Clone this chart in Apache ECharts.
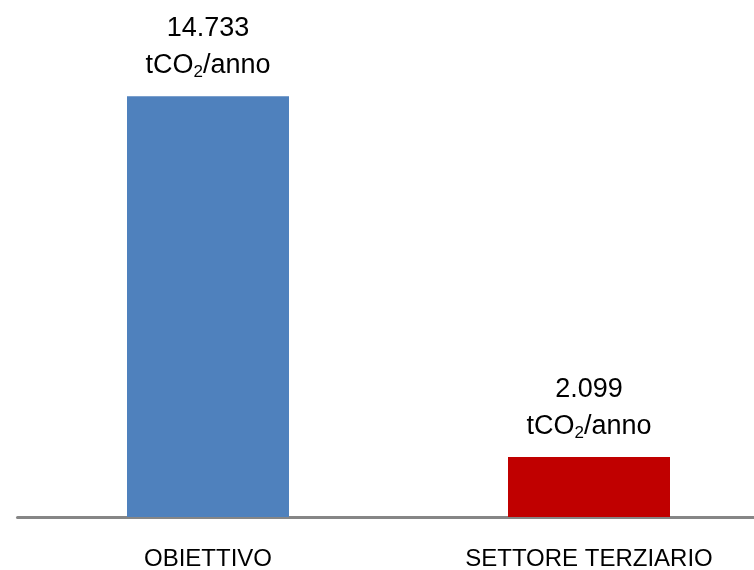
<!DOCTYPE html>
<html>
<head>
<meta charset="utf-8">
<script src="https://cdn.jsdelivr.net/npm/echarts@6/dist/echarts.min.js"></script>
<style>
html, body { margin: 0; padding: 0; background: #fff; }
#chart { width: 754px; height: 570px; }
</style>
</head>
<body>
<div id="chart"></div>
<script>
var categories = ['OBIETTIVO', 'SETTORE TERZIARIO'];
var values = [14733, 2099];
var valueLabels = ['14.733', '2.099'];
var barColors = ['#4F81BD', '#C00000'];

var chart = echarts.init(document.getElementById('chart'));

var data = values.map(function(v, i) {
	return { value: v, itemStyle: { color: barColors[i] } };
});

var option = {
	animation: false,
	textStyle: { fontFamily: 'Liberation Sans, Arial, sans-serif' },
	grid: { left: 17.5, right: -25.5, top: 3, bottom: 53, outerBoundsMode: 'none' },
	xAxis: {
		type: 'category',
		data: categories,
		axisLine: { lineStyle: { color: '#868686', width: 3 } },
		axisTick: { show: false },
		axisLabel: { color: '#000', fontSize: 24, margin: 30 }
	},
	yAxis: {
		type: 'value',
		min: 0,
		max: 18000,
		show: false
	},
	series: [{
		type: 'bar',
		barWidth: 162,
		data: data,
		label: {
			show: true,
			position: 'top',
			distance: 12,
			align: 'center',
			formatter: function(p) {
				return '{v|' + valueLabels[p.dataIndex] + '}\n{u|tCO}{s|2}{u|/anno}';
			},
			rich: {
				v: { fontSize: 27, color: '#000', lineHeight: 37, align: 'center' },
				u: { fontSize: 27, color: '#000', lineHeight: 37, verticalAlign: 'middle' },
				s: { fontSize: 17, color: '#000', lineHeight: 37, verticalAlign: 'middle', padding: [14, 0, 0, 0] }
			}
		}
	}]
};

chart.setOption(option);
</script>
</body>
</html>
